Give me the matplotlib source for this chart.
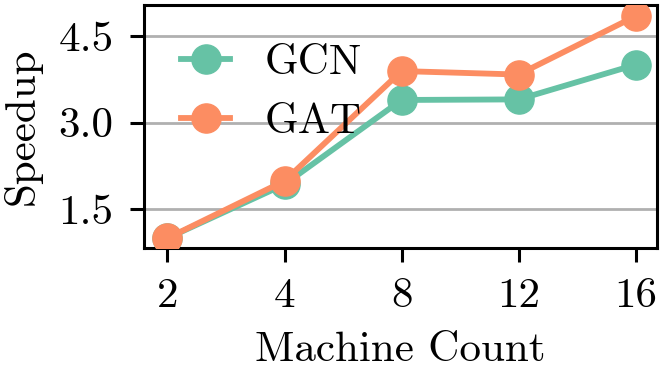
import matplotlib
matplotlib.use("Agg")
import matplotlib.pyplot as plt

# ======================
# data
# ======================
machines = ["2", "4", "8", "12", "16"]
gcn_speedup = [1.0, 1.93, 3.39, 3.40, 4.00]
gat_speedup = [1.0, 1.99, 3.89, 3.83, 4.84]
yticks = [1.5, 3.0, 4.5]

plt.rcParams["font.family"] = "serif"
plt.rcParams["font.serif"] = ["cmr10", "DejaVu Serif"]
plt.rcParams["mathtext.fontset"] = "cm"
plt.rcParams["axes.formatter.use_mathtext"] = True

fig, ax = plt.subplots(figsize=(6.64, 3.69), dpi=100)
fig.subplots_adjust(left=0.217, right=0.989, top=0.986, bottom=0.328)

x = range(len(machines))
ax.plot(x, gcn_speedup, color="#66c2a5", marker="o", markersize=21,
        linewidth=4.2, label="GCN", zorder=3)
ax.plot(x, gat_speedup, color="#fc8d62", marker="o", markersize=21,
        linewidth=4.2, label="GAT", zorder=3)

ax.set_xticks(list(x))
ax.set_xticklabels(machines)
ax.set_yticks(yticks)
ax.set_yticklabels([f"{v:.1f}" for v in yticks])
ax.set_xlim(-0.2, 4.18)
ax.set_ylim(0.83, 5.03)

ax.yaxis.grid(True, color="#b0b0b0", linewidth=2)
ax.set_axisbelow(True)
for s in ax.spines.values():
    s.set_linewidth(2.2)
ax.tick_params(axis="both", labelsize=31, length=10, width=2.2)
ax.tick_params(axis="x", pad=11)
ax.tick_params(axis="y", pad=12)

ax.set_xlabel("Machine Count", fontsize=31, labelpad=12)
ax.set_ylabel("Speedup", fontsize=31, labelpad=12)

ax.legend(loc="upper left", fontsize=31, frameon=False, handlelength=1.15,
          handletextpad=0.8, borderaxespad=0.0, labelspacing=0.47,
          bbox_to_anchor=(0.038, 0.91))

fig.savefig("out.png", dpi=100)
